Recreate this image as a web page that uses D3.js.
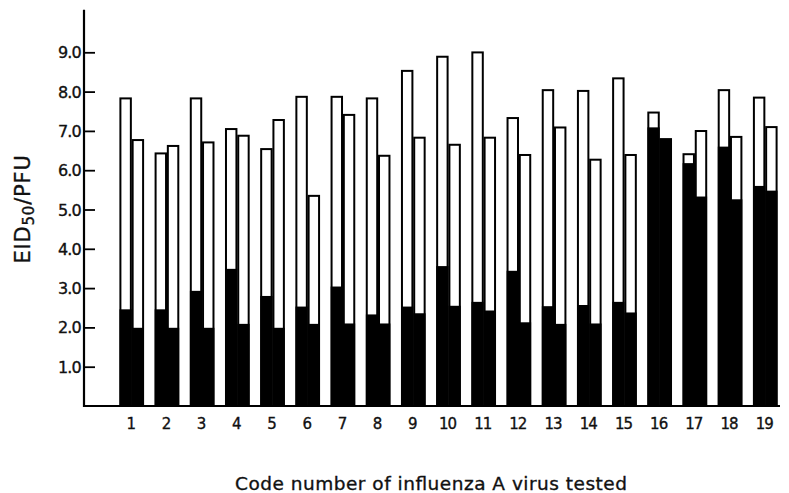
<!DOCTYPE html>
<html>
<head>
<meta charset="utf-8">
<script src="https://cdn.jsdelivr.net/npm/d3@7"></script>
<style>
  html, body { margin: 0; padding: 0; background: #fff; }
  svg { display: block; }
  text { font-family: "DejaVu Sans", sans-serif; fill: #111; stroke: #111; stroke-width: 0.35px; }
</style>
</head>
<body>
<svg id="chart" width="789" height="493"></svg>
<script>
const codes = d3.range(1, 20).map(String);
const leftTotal  = [7.85, 6.45, 7.85, 7.07, 6.56, 7.89, 7.89, 7.85, 8.55, 8.91, 9.02, 7.35, 8.06, 8.04, 8.36, 7.49, 6.43, 8.06, 7.87];
const leftBlack  = [2.46, 2.46, 2.93, 3.49, 2.80, 2.53, 3.04, 2.33, 2.53, 3.56, 2.65, 3.44, 2.54, 2.57, 2.65, 7.09, 6.18, 6.60, 5.60];
const rightTotal = [6.79, 6.64, 6.73, 6.90, 7.30, 5.37, 7.43, 6.39, 6.85, 6.67, 6.85, 6.41, 7.11, 6.29, 6.41, 6.81, 7.02, 6.87, 7.12];
const rightBlack = [1.99, 1.99, 1.99, 2.09, 1.99, 2.09, 2.10, 2.10, 2.36, 2.55, 2.43, 2.13, 2.09, 2.10, 2.38, 6.81, 5.33, 5.26, 5.48];
const yTicks = [1, 2, 3, 4, 5, 6, 7, 8, 9];
const yTickLabels = ["1.0", "2.0", "3.0", "4.0", "5.0", "6.0", "7.0", "8.0", "9.0"];
const xTitle = "Code number of influenza A virus tested";

const svg = d3.select("#chart");
const axisX = 84, baseY = 406;

const x = d3.scaleBand().domain(codes).range([119.5, 777.5]).paddingInner(0.304).paddingOuter(0);
const sub = d3.scaleBand().domain(["L", "R"]).range([0, x.bandwidth()]).padding(0);
const y = d3.scaleLinear().domain([0, 10]).range([baseY, 13]);

const rows = codes.map((c, i) => ([
  {code: c, side: "L", total: leftTotal[i], black: leftBlack[i]},
  {code: c, side: "R", total: rightTotal[i], black: rightBlack[i]}
])).flat();

const g = svg.append("g");
g.selectAll("rect.tot").data(rows).join("rect")
  .attr("class", "tot")
  .attr("x", d => x(d.code) + sub(d.side) + 0.9)
  .attr("y", d => y(d.total) + 0.9)
  .attr("width", sub.bandwidth() - 1.8)
  .attr("height", d => y(0) - y(d.total) - 0.9)
  .attr("fill", "#fff").attr("stroke", "#000").attr("stroke-width", 2);
g.selectAll("rect.blk").data(rows).join("rect")
  .attr("class", "blk")
  .attr("x", d => x(d.code) + sub(d.side))
  .attr("y", d => y(d.black))
  .attr("width", sub.bandwidth())
  .attr("height", d => y(0) - y(d.black))
  .attr("fill", "#000");

const yAxis = d3.axisRight(y).tickValues(yTicks).tickSize(11).tickFormat("");
const ya = svg.append("g").attr("transform", `translate(${axisX},0)`).call(yAxis);
ya.select(".domain").remove();
ya.selectAll(".tick line").attr("stroke", "#000").attr("stroke-width", 1.8);
svg.append("line").attr("x1", axisX).attr("x2", axisX).attr("y1", y(10.08)).attr("y2", baseY + 1)
  .attr("stroke", "#000").attr("stroke-width", 2.2);
svg.selectAll("text.ytl").data(yTicks).join("text")
  .attr("class", "ytl")
  .attr("x", axisX - 3).attr("y", d => y(d) + 6)
  .attr("text-anchor", "end").attr("font-size", 16).attr("letter-spacing", -0.8)
  .text((d, i) => yTickLabels[i]);

svg.append("line").attr("x1", axisX - 1).attr("x2", 780).attr("y1", baseY).attr("y2", baseY)
  .attr("stroke", "#000").attr("stroke-width", 2.2);
svg.selectAll("text.xtl").data(codes).join("text")
  .attr("class", "xtl")
  .attr("x", d => x(d) + x.bandwidth() / 2 - 1)
  .attr("y", 429)
  .attr("text-anchor", "middle").attr("font-size", 15).attr("letter-spacing", -1)
  .text(d => d);

svg.append("text").attr("x", 431).attr("y", 490).attr("text-anchor", "middle")
  .attr("font-size", 18.5).attr("textLength", 392).attr("lengthAdjust", "spacing")
  .text(xTitle);

const yt = svg.append("text").attr("transform", "translate(30,209) rotate(-90)")
  .attr("text-anchor", "middle").attr("font-size", 21).attr("letter-spacing", 0.8);
yt.append("tspan").text("EID");
yt.append("tspan").attr("font-size", 15).attr("dy", 4).text("50");
yt.append("tspan").attr("dy", -4).text("/PFU");
</script>
</body>
</html>
